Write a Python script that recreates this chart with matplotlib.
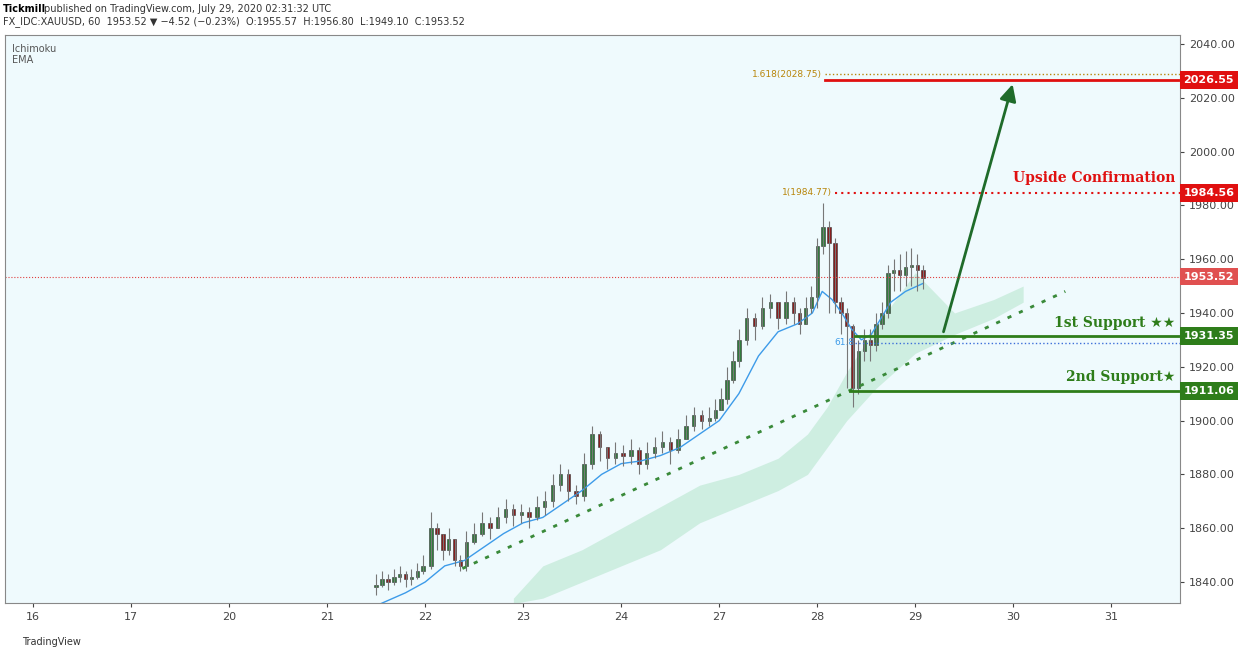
import numpy as np
import matplotlib.pyplot as plt
from matplotlib.patches import FancyArrowPatch

# x positions are trading-day indexes: 0=16, 1=17, 2=20, 3=21, 4=22, ...
day_labels = ['16', '17', '20', '21', '22', '23', '24', '27', '28', '29', '30', '31']

t = [3.50, 3.56, 3.62, 3.68, 3.74, 3.80, 3.86, 3.92, 3.98, 4.06, 4.12, 4.18, 4.24, 4.30, 4.36,
     4.42, 4.50, 4.58, 4.66, 4.74, 4.82, 4.90, 4.98, 5.06, 5.14, 5.22, 5.30, 5.38, 5.46, 5.54,
     5.62, 5.70, 5.78, 5.86, 5.94, 6.02, 6.10, 6.18, 6.26, 6.34, 6.42, 6.50, 6.58, 6.66, 6.74,
     6.82, 6.90, 6.96, 7.02, 7.08, 7.14, 7.20, 7.28, 7.36, 7.44, 7.52, 7.60, 7.68, 7.76, 7.82,
     7.88, 7.94, 8.00, 8.06, 8.12, 8.18, 8.24, 8.30, 8.36, 8.42, 8.48, 8.54, 8.60, 8.66, 8.72,
     8.78, 8.84, 8.90, 8.96, 9.02, 9.08]
close = [1839, 1841, 1840, 1842, 1843, 1841, 1842, 1844, 1846, 1860, 1858, 1852, 1856, 1848, 1846,
         1855, 1858, 1862, 1860, 1864, 1867, 1865, 1866, 1864, 1868, 1870, 1876, 1880, 1874, 1872,
         1884, 1895, 1890, 1886, 1888, 1887, 1889, 1884, 1888, 1890, 1892, 1889, 1893, 1898, 1902,
         1900, 1901, 1904, 1908, 1915, 1922, 1930, 1938, 1935, 1942, 1944, 1938, 1944, 1940, 1936,
         1942, 1946, 1965, 1972, 1966, 1944, 1940, 1935, 1912, 1926, 1930, 1928, 1936, 1940, 1955,
         1956, 1954, 1957, 1958, 1956, 1953]
high = [1843, 1844, 1843, 1845, 1846, 1844, 1845, 1847, 1850, 1866, 1862, 1858, 1860, 1856, 1850,
        1859, 1862, 1866, 1864, 1868, 1871, 1869, 1869, 1868, 1872, 1874, 1880, 1884, 1882, 1876,
        1888, 1898, 1896, 1890, 1892, 1891, 1893, 1890, 1892, 1894, 1896, 1894, 1897, 1902, 1905,
        1904, 1905, 1908, 1912, 1920, 1926, 1934, 1942, 1940, 1946, 1947, 1944, 1948, 1946, 1942,
        1946, 1950, 1968, 1981, 1974, 1968, 1946, 1942, 1936, 1930, 1934, 1934, 1940, 1944, 1958,
        1960, 1962, 1963, 1964, 1962, 1958]
low = [1835, 1838, 1837, 1839, 1840, 1838, 1839, 1841, 1843, 1845, 1852, 1848, 1850, 1846, 1844,
       1844, 1854, 1857, 1856, 1860, 1862, 1861, 1862, 1860, 1863, 1865, 1868, 1874, 1870, 1869,
       1870, 1882, 1885, 1882, 1884, 1883, 1884, 1880, 1882, 1886, 1888, 1884, 1888, 1893, 1896,
       1897, 1898, 1900, 1904, 1906, 1914, 1920, 1928, 1930, 1934, 1938, 1934, 1936, 1936, 1932,
       1936, 1940, 1942, 1962, 1940, 1940, 1932, 1912, 1905, 1910, 1922, 1922, 1926, 1934, 1938,
       1948, 1948, 1950, 1950, 1948, 1949]
opens = [1838] + close[:-1]

ema_t = [3.55, 3.8, 4.0, 4.2, 4.4, 4.6, 4.8, 5.0, 5.2, 5.4, 5.6, 5.8, 6.0, 6.2, 6.4, 6.6, 6.8,
         7.0, 7.2, 7.4, 7.6, 7.8, 7.95, 8.05, 8.15, 8.25, 8.35, 8.45, 8.55, 8.65, 8.75, 8.9, 9.08]
ema = [1832, 1836, 1840, 1846, 1848, 1853, 1858, 1862, 1864, 1869, 1874, 1880, 1884, 1885, 1887,
       1890, 1895, 1900, 1910, 1924, 1933, 1936, 1940, 1948, 1945, 1940, 1934, 1930, 1932, 1938,
       1944, 1948, 1951]

cloud_t = [4.9, 5.2, 5.6, 6.0, 6.4, 6.8, 7.2, 7.6, 7.9, 8.1, 8.3, 8.6, 9.0, 9.4, 9.8, 10.1]
cloud_top = [1834, 1846, 1852, 1860, 1868, 1876, 1880, 1886, 1895, 1905, 1918, 1935, 1955, 1940, 1945, 1950]
cloud_bot = [1832, 1834, 1840, 1846, 1852, 1862, 1868, 1874, 1880, 1890, 1900, 1912, 1925, 1932, 1938, 1944]

levels = {'2026.55': 2026.55, '1984.56': 1984.56, '1931.35': 1931.35, '1911.06': 1911.06}
last_price = 1953.52

lbl_font = ['DejaVu Serif', 'DejaVu Sans']

fig = plt.figure(figsize=(12.48, 6.52), dpi=100)
ax = fig.add_axes([5/1248, 1 - 603/652, 1175/1248, 568/652])
ax.set_facecolor('#effafd')
ax.set_xlim(-0.286, 11.7)
ax.set_ylim(1832.2, 2043.3)

# cloud + ema
ax.fill_between(cloud_t, cloud_bot, cloud_top, color='#b9e6cf', alpha=0.6, lw=0)
ax.plot(ema_t, ema, color='#3d9be9', lw=1)

# candles
for x, o, h, l, c in zip(t, opens, high, low, close):
    col = '#2e7d3a' if c >= o else '#8b1a1a'
    ax.vlines(x, l, h, color='#777777', lw=0.8)
    ax.bar(x, max(abs(c - o), 0.6), 0.035, bottom=min(o, c), color=col, edgecolor='#333333', lw=0.4)

# trend line and arrow
ax.plot([4.38, 10.53], [1845, 1948], color='#3a8a3a', ls=(0, (1.5, 3)), lw=2)
ax.add_patch(FancyArrowPatch((9.28, 1932), (10.0, 2026), arrowstyle='-|>', mutation_scale=25,
                             color='#1f6b2a', lw=2))

# levels
ax.axhline(last_price, color='#e04040', ls=':', lw=0.8)
ax.plot([8.08, 11.7], [2028.75, 2028.75], color='#b8860b', ls=':', lw=1)
ax.text(8.05, 2028.75, '1.618(2028.75)', color='#b8860b', fontsize=6.5, ha='right', va='center')
ax.plot([8.08, 11.7], [levels['2026.55']] * 2, color='#e01010', lw=2)
ax.plot([8.18, 11.7], [levels['1984.56']] * 2, color='#e01010', ls=(0, (1, 2)), lw=1.5)
ax.text(8.15, 1984.77, '1(1984.77)', color='#b8860b', fontsize=6.5, ha='right', va='center')
ax.text(11.65, 1987.5, 'Upside Confirmation', color='#e01010', fontsize=10, fontweight='bold',
        ha='right', va='bottom', family=lbl_font)
ax.plot([8.38, 11.7], [levels['1931.35']] * 2, color='#2e7d1a', lw=2)
ax.plot([8.38, 11.7], [1929, 1929], color='#3d6fd9', ls=':', lw=1)
ax.text(8.38, 1929, '61.8', color='#3d9be9', fontsize=6.5, ha='right', va='center')
ax.text(11.65, 1933.5, '1st Support \u2605\u2605', color='#2e7d1a', fontsize=10, fontweight='bold',
        ha='right', va='bottom', family=lbl_font)
ax.plot([8.33, 11.7], [levels['1911.06']] * 2, color='#2e7d1a', lw=2)
ax.text(11.65, 1913.5, '2nd Support\u2605', color='#2e7d1a', fontsize=10, fontweight='bold',
        ha='right', va='bottom', family=lbl_font)

# axes
ax.yaxis.tick_right()
ax.set_yticks(np.arange(1840, 2041, 20))
ax.set_yticklabels(['%.2f' % v for v in np.arange(1840, 2041, 20)])
ax.set_xticks(range(len(day_labels)))
ax.set_xticklabels(day_labels)
ax.tick_params(labelsize=8, colors='#444444', length=3)
for s in ax.spines.values():
    s.set_color('#888888')

boxes = [('2026.55', levels['2026.55'], '#e01010'), ('1984.56', levels['1984.56'], '#e01010'),
         ('1953.52', last_price, '#e05050'), ('1931.35', levels['1931.35'], '#2e7d1a'),
         ('1911.06', levels['1911.06'], '#2e7d1a')]
for txt, y, col in boxes:
    ax.text(1.003, y, txt, transform=ax.get_yaxis_transform(), color='white', fontsize=8,
            fontweight='bold', va='center', ha='left',
            bbox=dict(boxstyle='square,pad=0.35', fc=col, ec='none'))

ax.text(0.006, 0.985, 'Ichimoku\nEMA', transform=ax.transAxes, fontsize=7, color='#555555', va='top')
fig.text(3/1248, 1 - 9/652, 'Tickmill', fontsize=7, fontweight='bold', va='center')
fig.text(44/1248, 1 - 9/652, 'published on TradingView.com, July 29, 2020 02:31:32 UTC',
         fontsize=7, va='center', color='#333333')
fig.text(3/1248, 1 - 22/652, 'FX_IDC:XAUUSD, 60  1953.52 \u25bc \u22124.52 (\u22120.23%)  '
         'O:1955.57  H:1956.80  L:1949.10  C:1953.52', fontsize=7, va='center', color='#333333')
fig.text(22/1248, 1 - 642/652, 'TradingView', fontsize=7, va='center', color='#333333')
fig.savefig('out.png', dpi=100)
